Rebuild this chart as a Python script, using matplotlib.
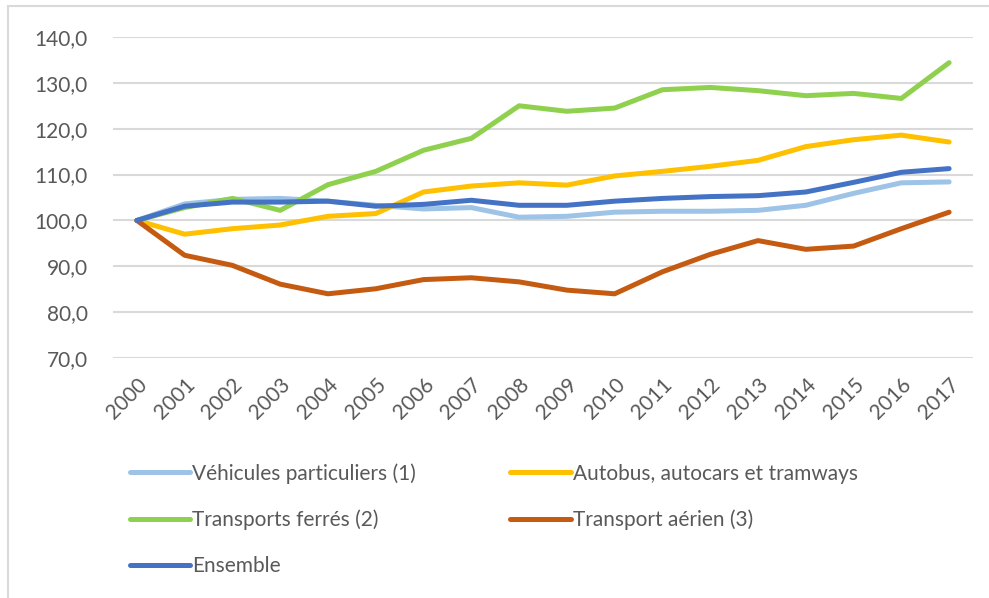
import matplotlib.pyplot as plt
from matplotlib.patches import Rectangle

years = [str(y) for y in range(2000, 2018)]

vehicules = [100.0, 103.6, 104.6, 104.8, 104.2, 103.3, 102.5, 102.8, 100.7, 100.9,
             101.8, 102.0, 102.0, 102.2, 103.3, 105.9, 108.2, 108.4]
autobus = [100.0, 97.0, 98.2, 99.0, 100.9, 101.5, 106.2, 107.5, 108.2, 107.7,
           109.7, 110.7, 111.8, 113.1, 116.1, 117.6, 118.6, 117.1]
ferres = [100.0, 102.8, 104.8, 102.2, 107.8, 110.7, 115.3, 117.9, 125.0, 123.8,
          124.5, 128.5, 129.0, 128.3, 127.2, 127.7, 126.6, 134.4]
aerien = [100.0, 92.4, 90.2, 86.1, 84.0, 85.1, 87.1, 87.5, 86.6, 84.8,
          84.0, 88.8, 92.6, 95.6, 93.7, 94.4, 98.2, 101.8]
ensemble = [100.0, 103.1, 104.0, 104.0, 104.2, 103.1, 103.5, 104.4, 103.3, 103.3,
            104.2, 104.8, 105.2, 105.4, 106.2, 108.3, 110.5, 111.3]

series = [
    ("Véhicules particuliers (1)", vehicules, "#9DC3E6"),
    ("Autobus, autocars et tramways", autobus, "#FFC000"),
    ("Transports ferrés (2)", ferres, "#8FD14F"),
    ("Transport aérien (3)", aerien, "#C55A11"),
    ("Ensemble", ensemble, "#4472C4"),
]

plt.rcParams['font.family'] = ['Lato', 'DejaVu Sans']
txt = "#595959"

fig = plt.figure(figsize=(9.89, 5.98), dpi=100)
ax = fig.add_axes([113 / 989, 1 - 358 / 598, 860 / 989, 321 / 598])

x = list(range(len(years)))
handles = {}
for name, vals, col in series:
    h, = ax.plot(x, vals, color=col, lw=3.6, solid_capstyle='round', solid_joinstyle='round')
    handles[name] = h

ax.set_xlim(-0.5, len(years) - 0.5)
ax.set_ylim(70, 140)
ax.set_yticks(range(70, 141, 10))
ax.set_yticklabels([f"{v},0" for v in range(70, 141, 10)], color=txt, fontsize=15)
ax.set_xticks(x)
ax.set_xticklabels(years, rotation=45, ha='right', va='top', rotation_mode='anchor',
                   color=txt, fontsize=15)
ax.tick_params(length=0, axis='y', pad=18)
ax.tick_params(length=0, axis='x', pad=12)
ax.grid(axis='y', color='#D9D9D9', lw=1.5)
ax.set_axisbelow(True)
for s in ax.spines.values():
    s.set_visible(False)

# chart area border (left and top visible)
fig.patches.append(Rectangle((8 / 989, -0.1), 1.2, 1 - 6 / 598 + 0.1, transform=fig.transFigure,
                             fill=False, edgecolor='#D9D9D9', lw=1.5))

order = ["Véhicules particuliers (1)", "Transports ferrés (2)", "Ensemble",
         "Autobus, autocars et tramways", "Transport aérien (3)"]
fig.legend([handles[n] for n in order], order, ncol=2, frameon=False,
           loc='upper left', bbox_to_anchor=(130 / 989, 1 - 463 / 598),
           borderpad=0, borderaxespad=0,
           fontsize=15, labelcolor=txt, handlelength=2.9, handletextpad=0.1,
           labelspacing=1.25, columnspacing=4.5)

fig.savefig("out.png", dpi=100)
